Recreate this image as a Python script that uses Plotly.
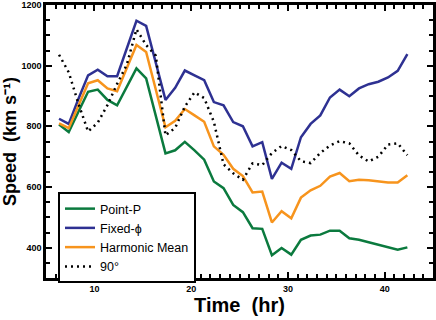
import numpy as np
import plotly.graph_objects as go

# time in hours, one sample per hour
t0 = 6.35
n_pts = 37
time_hr = [round(t0 + i, 2) for i in range(n_pts)]

point_p = [806, 781, 848, 914, 921, 887, 869, 930, 991, 958, 835, 711, 721, 749, 721,
           690, 618, 596, 541, 517, 464, 462, 375, 399, 377, 426, 440, 443, 456, 456,
           431, 426, 418, 409, 401, 393, 401]

fixed_phi = [825, 808, 890, 968, 987, 965, 965, 1055, 1148, 1131, 1010, 887, 927, 984, 968,
             952, 880, 869, 814, 800, 734, 748, 627, 680, 660, 764, 808, 836, 895, 921,
             899, 925, 939, 947, 961, 983, 1038]

harmonic = [810, 794, 868, 942, 952, 925, 916, 992, 1068, 1045, 920, 797, 818, 857, 836,
            815, 734, 706, 660, 636, 582, 585, 483, 520, 497, 565, 589, 604, 634, 646,
            619, 624, 622, 618, 615, 615, 639]

ninety = [1036, 978, 875, 783, 812, 870, 940, 1003, 1120, 1068, 1033, 770, 795, 865, 912,
          893, 815, 675, 645, 624, 678, 672, 712, 735, 722, 685, 679, 712, 737, 751,
          744, 704, 684, 700, 740, 744, 705]

fig = go.Figure()
fig.add_trace(go.Scatter(x=time_hr, y=point_p, mode="lines", name="Point-P",
                         line=dict(color="#0B7A3E", width=2.5)))
fig.add_trace(go.Scatter(x=time_hr, y=fixed_phi, mode="lines", name="Fixed-\u03d5",
                         line=dict(color="#2E3192", width=2.5)))
fig.add_trace(go.Scatter(x=time_hr, y=harmonic, mode="lines", name="Harmonic Mean",
                         line=dict(color="#F7941D", width=2.5)))
fig.add_trace(go.Scatter(x=time_hr, y=ninety, mode="lines", name="90\u00b0",
                         line=dict(color="black", width=2.5, dash="2px,4px")))

axis_font = dict(family="Liberation Sans", size=9, color="black", weight="bold")

fig.update_xaxes(range=[5, 45], tickvals=[10, 20, 30, 40], ticks="inside", ticklen=6,
                 tickwidth=2, tickcolor="black", showline=True, linewidth=2.5,
                 linecolor="black", mirror="allticks", showgrid=False, zeroline=False,
                 tickfont=axis_font, automargin=False,
                 minor=dict(dtick=1, ticks="inside", ticklen=4, tickwidth=2,
                            tickcolor="black", showgrid=False),
                 title=dict(text="Time  (hr)", standoff=0,
                            font=dict(family="Liberation Sans", size=20, color="black",
                                      weight="bold")))
fig.update_yaxes(range=[300, 1200], tickvals=[400, 600, 800, 1000, 1200], ticks="inside",
                 ticklen=6, tickwidth=2, tickcolor="black", showline=True, linewidth=2.5,
                 linecolor="black", mirror="allticks", showgrid=False, zeroline=False,
                 tickfont=axis_font, automargin=False,
                 minor=dict(dtick=50, ticks="inside", ticklen=4, tickwidth=2,
                            tickcolor="black", showgrid=False),
                 title=dict(text="Speed  (km s\u207b\u00b9)", standoff=4,
                            font=dict(family="Liberation Sans", size=18, color="black",
                                      weight="bold")))

fig.update_layout(
    width=436, height=320,
    margin=dict(l=46, r=3, t=5, b=42),
    plot_bgcolor="white", paper_bgcolor="white",
    showlegend=True,
    legend=dict(x=0.031, y=0.315, xanchor="left", yanchor="top",
                bordercolor="black", borderwidth=2, bgcolor="white",
                font=dict(family="Liberation Sans", size=12.5, color="black"),
                tracegroupgap=0, itemwidth=30),
)

# the page body has an 8px margin by default; drop it so the figure sits at 0,0
fig.write_html("out.html", config={"displayModeBar": False},
               post_script="document.body.style.margin='0';")
